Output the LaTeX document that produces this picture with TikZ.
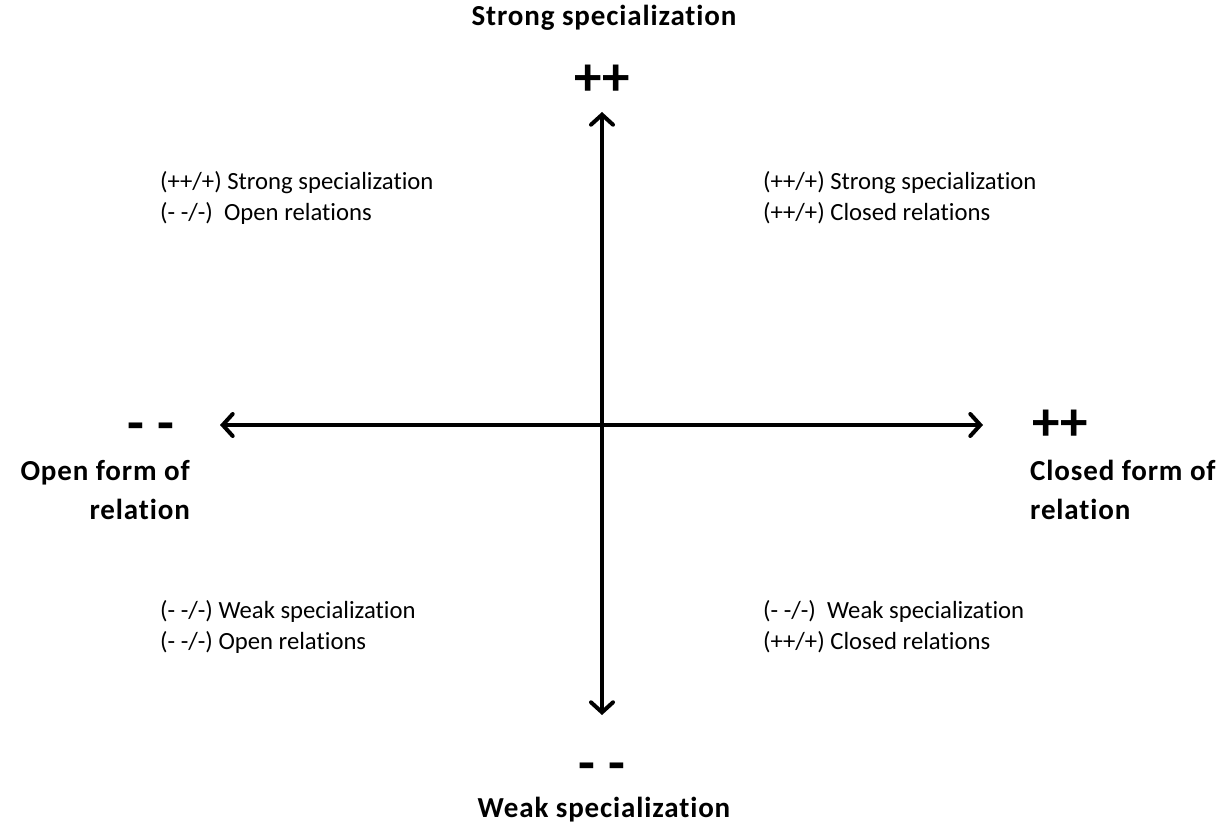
\documentclass[tikz,border=0pt]{standalone}
\usepackage{fontspec}
\setmainfont[Ligatures=NoCommon]{Carlito}
\usetikzlibrary{arrows.meta}
\begin{document}
\begin{tikzpicture}[x=1pt,y=-1pt,
  axis/.style={line width=4pt,{Straight Barb[length=10pt,width=22pt,line width=4pt,line cap=round]}-{Straight Barb[length=10pt,width=22pt,line width=4pt,line cap=round]}},
  quad/.style={anchor=west,align=left,font=\fontsize{24.7}{31}\selectfont,inner sep=0pt},
  lab/.style={font=\bfseries\fontsize{29}{39}\selectfont\addfontfeature{LetterSpace=3},inner sep=0pt},
  sign/.style={font=\bfseries\fontsize{55}{55}\selectfont,inner sep=0pt}]
\useasboundingbox (0,0) rectangle (1219,829);
\coordinate (T) at (602,112);
\coordinate (B) at (602,715);
\coordinate (L) at (220,425);
\coordinate (R) at (983,425);
\draw[axis] (B) -- (T);
\draw[axis] (L) -- (R);
\node[lab] (ts) at (604,18) {Strong specialization};
\node[lab] (bs) at (604,810) {Weak specialization};
\node[sign] (tp) at (602,80) {++};
\node[sign] (bm) at (602,772) {- -};
\node[sign] (lm) at (151,432) {- -};
\node[sign] (rp) at (1060,425) {++};
\node[lab,anchor=east,align=right] (ol) at (190,490) {Open form of\\relation};
\node[lab,anchor=west,align=left] (cl) at (1030,490) {Closed form of\\relation};
\node[quad] (q1) at (160,198) {(++/+) Strong specialization\\(- -/-)\ \ Open relations};
\node[quad] (q2) at (763,198) {(++/+) Strong specialization\\(++/+) Closed relations};
\node[quad] (q3) at (160,627) {(- -/-) Weak specialization\\(- -/-) Open relations};
\node[quad] (q4) at (763,627) {(- -/-)\ \ Weak specialization\\(++/+) Closed relations};
\end{tikzpicture}
\end{document}
